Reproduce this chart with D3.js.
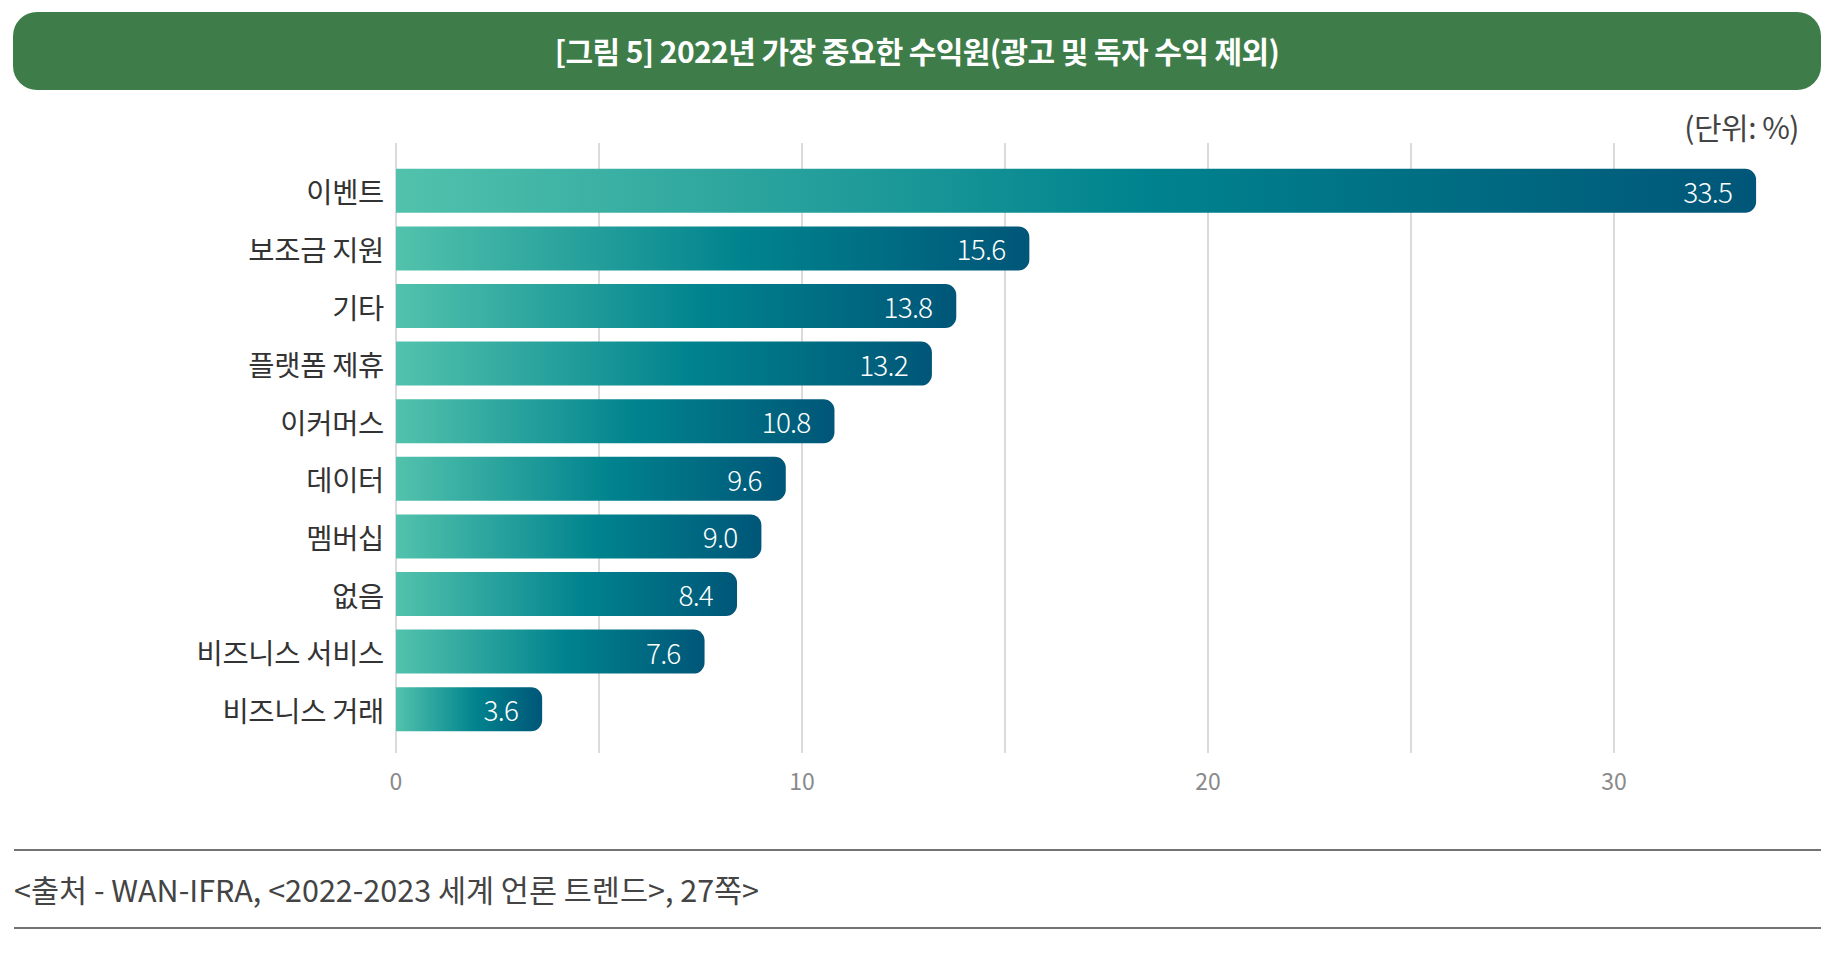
<!DOCTYPE html>
<html><head><meta charset="utf-8">
<script src="https://cdn.jsdelivr.net/npm/d3@7"></script>
<style>
html,body{margin:0;padding:0;background:#fff;}
svg{display:block;}
text{font-family:"Noto Sans CJK KR","Noto Sans",sans-serif;}
</style></head>
<body>
<script>
const title = "[그림 5] 2022년 가장 중요한 수익원(광고 및 독자 수익 제외)";
const unitLabel = "(단위: %)";
const source = "<출처 - WAN-IFRA, <2022-2023 세계 언론 트렌드>, 27쪽>";
const categories = ["이벤트","보조금 지원","기타","플랫폼 제휴","이커머스","데이터","멤버십","없음","비즈니스 서비스","비즈니스 거래"];
const values = [33.5,15.6,13.8,13.2,10.8,9.6,9.0,8.4,7.6,3.6];
const gridTicks = [0,5,10,15,20,25,30];
const axisTicks = [0,10,20,30];

const W = 1842, H = 962;
const svg = d3.select("body").append("svg").attr("width", W).attr("height", H);

const defs = svg.append("defs");
const grad = defs.append("linearGradient").attr("id","barGrad")
  .attr("x1","0%").attr("x2","100%").attr("y1","0%").attr("y2","0%");
grad.append("stop").attr("offset","0%").attr("stop-color","#52c2ac");
grad.append("stop").attr("offset","55%").attr("stop-color","#00838e");
grad.append("stop").attr("offset","100%").attr("stop-color","#005678");

// Title bar
svg.append("rect").attr("x",13).attr("y",12).attr("width",1808).attr("height",78)
  .attr("rx",24).attr("fill","#3e7d49");
svg.append("text").attr("x",917).attr("y",50).attr("text-anchor","middle")
  .attr("dominant-baseline","central").attr("fill","#fff").attr("font-size",30)
  .attr("font-weight",700).attr("letter-spacing",-0.6).text(title);

svg.append("text").attr("x",1799).attr("y",126).attr("text-anchor","end")
  .attr("dominant-baseline","central").attr("fill","#444").attr("font-size",30)
  .attr("letter-spacing",-0.5).text(unitLabel);

const x = d3.scaleLinear().domain([0,30]).range([396,1614]);
const y = d3.scaleBand().domain(categories).range([162,738]).paddingInner(0.236).paddingOuter(0.118);

// grid
svg.append("g").selectAll("line").data(gridTicks).join("line")
  .attr("x1",d=>x(d)).attr("x2",d=>x(d)).attr("y1",143).attr("y2",753)
  .attr("stroke","#cfcfcf").attr("stroke-width",1.5);

// axis labels
svg.append("g").selectAll("text").data(axisTicks).join("text")
  .attr("x",d=>x(d)).attr("y",780).attr("text-anchor","middle")
  .attr("dominant-baseline","central").attr("fill","#8a8a8a").attr("font-size",23)
  .text(d=>d);

// bars
const r = 11;
function barPath(v, cat){
  const x0 = x(0), x1 = x(v), y0 = y(cat), h = y.bandwidth();
  return `M${x0},${y0}H${x1-r}A${r},${r} 0 0 1 ${x1},${y0+r}V${y0+h-r}A${r},${r} 0 0 1 ${x1-r},${y0+h}H${x0}Z`;
}
svg.append("g").selectAll("path").data(categories).join("path")
  .attr("d",(c,i)=>barPath(values[i],c)).attr("fill","url(#barGrad)");

// value labels
svg.append("g").selectAll("text").data(categories).join("text")
  .attr("x",(c,i)=>x(values[i])-24).attr("y",c=>y(c)+y.bandwidth()/2)
  .attr("text-anchor","end").attr("dominant-baseline","central")
  .attr("fill","#fff").attr("font-size",28).attr("font-weight",300)
  .attr("letter-spacing",-0.8)
  .text((c,i)=>values[i].toFixed(1));

// category labels
svg.append("g").selectAll("text").data(categories).join("text")
  .attr("x",384).attr("y",c=>y(c)+y.bandwidth()/2)
  .attr("text-anchor","end").attr("dominant-baseline","central")
  .attr("fill","#333").attr("font-size",28.5).attr("letter-spacing",-0.3)
  .text(c=>c);

// footer
svg.append("line").attr("x1",14).attr("x2",1821).attr("y1",850).attr("y2",850)
  .attr("stroke","#444").attr("stroke-width",1.5);
svg.append("line").attr("x1",14).attr("x2",1821).attr("y1",928).attr("y2",928)
  .attr("stroke","#444").attr("stroke-width",1.5);
svg.append("text").attr("x",14).attr("y",889).attr("dominant-baseline","central")
  .attr("fill","#444").attr("font-size",30.5).attr("letter-spacing",0).text(source);
</script>
</body></html>
